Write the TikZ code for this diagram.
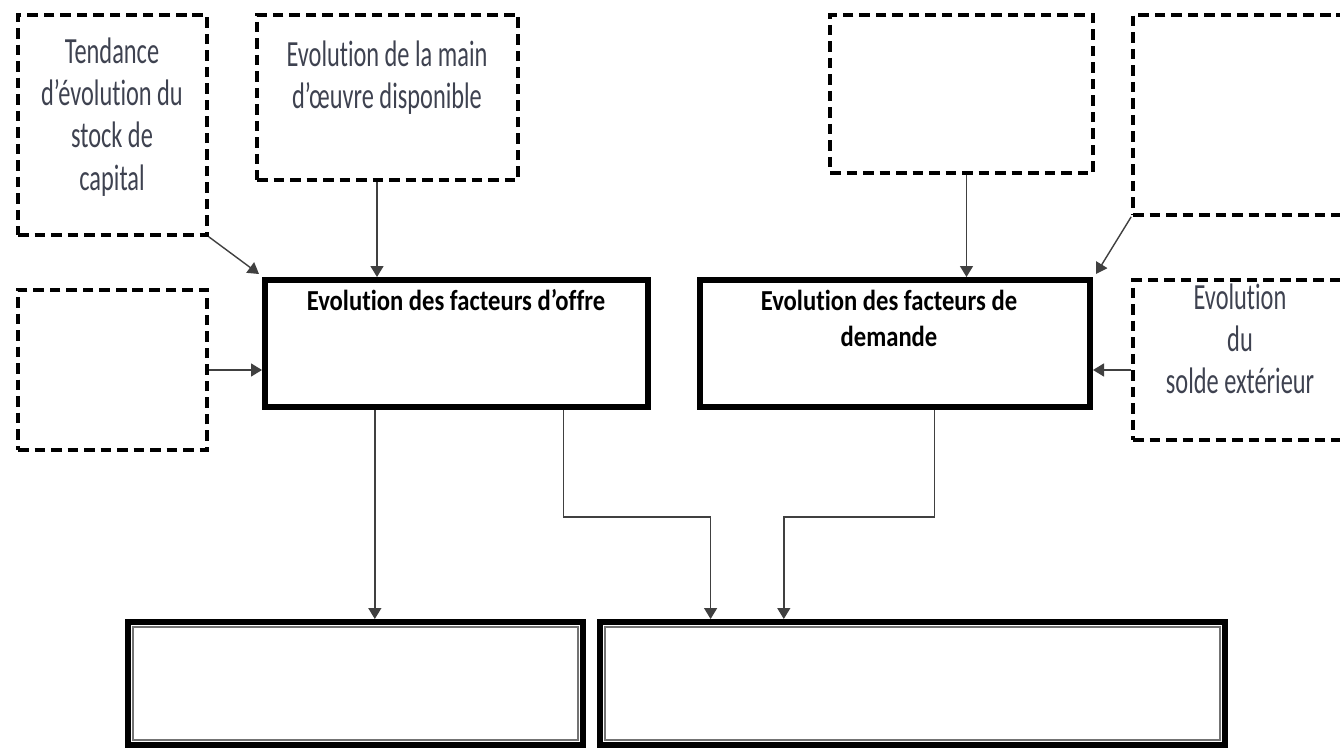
\documentclass[tikz,border=0pt]{standalone}
\usepackage{fontspec}
\setmainfont[FakeStretch=0.66, Ligatures=NoCommon]{Carlito}
\newfontfamily\grasfont[FakeStretch=0.85, Ligatures=NoCommon]{Carlito}
\usetikzlibrary{arrows.meta,calc}
\definecolor{gristexte}{RGB}{62,66,80}

\tikzset{
  tiret/.style={draw, line width=2.1pt, dash pattern=on 6pt off 3.4pt},
  epais/.style={draw, line width=3.4pt},
  resultat/.style={draw, line width=3.4pt},
  fleche/.style={black!75, line width=0.8pt, -{Triangle[length=0.22cm,width=0.26cm]}},
  txt/.style={align=center, text=gristexte, font=\fontsize{21}{24}\selectfont},
  gras/.style={align=center, font=\grasfont\fontsize{16.5}{20.5}\selectfont\bfseries}
}

\begin{document}
\begin{tikzpicture}
  \useasboundingbox (0,0) rectangle (26.8,14.98);
  \clip (0,0) rectangle (26.8,14.98);

  % cases en pointilles
  \node[tiret, minimum width=3.78cm, minimum height=4.4cm] (tend) at (2.25,12.48) {};
  \node[tiret, minimum width=5.22cm, minimum height=3.3cm] (main) at (7.75,13.03) {};
  \node[tiret, minimum width=3.78cm, minimum height=3.2cm] (vide1) at (2.25,7.58) {};
  \node[tiret, minimum width=5.26cm, minimum height=3.16cm] (vide2) at (19.23,13.1) {};
  \node[tiret, minimum width=4.6cm, minimum height=4.0cm] (vide3) at (24.96,12.68) {};
  \node[tiret, minimum width=4.6cm, minimum height=3.2cm] (solde) at (24.96,7.78) {};

  % facteurs
  \node[epais, minimum width=7.66cm, minimum height=2.54cm] (offre) at (9.13,8.11) {};
  \node[epais, minimum width=7.8cm, minimum height=2.54cm] (demande) at (17.9,8.11) {};

  % resultats
  \node[resultat, minimum width=9.1cm, minimum height=2.46cm] (resA) at (7.11,1.31) {};
  \node[resultat, minimum width=12.5cm, minimum height=2.46cm] (resB) at (18.25,1.31) {};
  \draw[black!55, line width=1pt] ($(resA.north west)+(0.16,-0.16)$) rectangle ($(resA.south east)+(-0.16,0.16)$);
  \draw[black!55, line width=1pt] ($(resB.north west)+(0.16,-0.16)$) rectangle ($(resB.south east)+(-0.16,0.16)$);

  % textes
  \node[txt] (tendT) at (2.24,12.64) {Tendance\\d’évolution du\\stock de\\capital};
  \node[txt] (mainT) at (7.74,13.42) {Evolution de la main\\d’œuvre disponible};
  \node[txt] (soldeT) at (24.8,8.2) {Evolution\\du\\solde extérieur};
  \node[gras] (offreT) at (9.12,8.98) {Evolution des facteurs d’offre};
  \node[gras] (demandeT) at (17.78,8.62) {Evolution des facteurs de\\demande};

  % fleches vers les facteurs
  \draw[fleche] (tend.south east) -- ([shift={(-0.06,0.06)}]offre.north west);
  \draw[fleche] ([xshift=-0.21cm]main.south) -- ([xshift=-0.21cm]main.south |- offre.north);
  \draw[fleche] (vide1.east) -- (vide1.east -| offre.west);
  \draw[fleche] ([xshift=0.1cm]vide2.south) -- ([xshift=0.1cm]vide2.south |- demande.north);
  \draw[fleche] (vide3.south west) -- ([shift={(0.06,0.06)}]demande.north east);
  \draw[fleche] ([yshift=-0.2cm]solde.west) -- ([yshift=-0.2cm]solde.west -| demande.east);

  % fleches vers les resultats
  \coordinate (o1) at ($(offre.south west)!0.29!(offre.south east)$);
  \coordinate (o2) at ($(offre.south west)!0.775!(offre.south east)$);
  \coordinate (d1) at ($(demande.south west)!0.6!(demande.south east)$);
  \coordinate (r1) at ($(resB.north west)!0.18!(resB.north east)$);
  \coordinate (r2) at ($(resB.north west)!0.296!(resB.north east)$);
  \coordinate (mid) at (0,4.64);
  \draw[fleche] (o1) -- (o1 |- resA.north);
  \draw[fleche] (o2) |- (mid -| r1) -- (r1);
  \draw[fleche] (d1) |- (mid -| r2) -- (r2);
\end{tikzpicture}
\end{document}
